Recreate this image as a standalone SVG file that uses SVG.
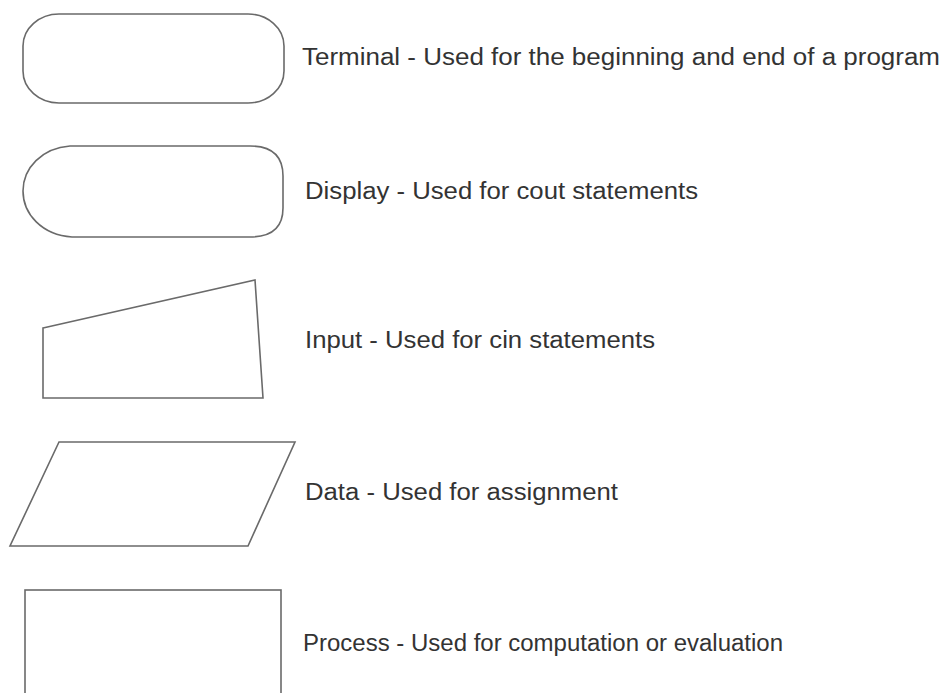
<svg xmlns="http://www.w3.org/2000/svg" width="944" height="693" viewBox="0 0 944 693">
<style>
.shape{fill:#fff;stroke:#6a6a6a;stroke-width:1.6}
.lbl{font-family:"Liberation Sans",Arial,sans-serif;font-size:23px;fill:#333}
</style>
<rect width="944" height="693" fill="#fff"/>
<g id="terminal">
<rect class="shape" x="23" y="14" width="261" height="89" rx="36" ry="32"/>
<text class="lbl" x="302" y="65" textLength="638" lengthAdjust="spacingAndGlyphs">Terminal - Used for the beginning and end of a program</text>
</g>
<g id="display">
<path class="shape" d="M70,146 L250,146 Q283,146 283,176 L283,208 Q283,237 250,237 L72,237 C42,235 23,214 23,191 C23,168 42,148 70,146 Z"/>
<text class="lbl" x="305" y="199" textLength="393" lengthAdjust="spacingAndGlyphs">Display - Used for cout statements</text>
</g>
<g id="input">
<path class="shape" d="M43,328 L255,280 L263,398 L43,398 Z"/>
<text class="lbl" x="305" y="348" textLength="350" lengthAdjust="spacingAndGlyphs">Input - Used for cin statements</text>
</g>
<g id="data">
<path class="shape" d="M59,442 L295,442 L248,546 L10,546 Z"/>
<text class="lbl" x="305" y="500" textLength="313" lengthAdjust="spacingAndGlyphs">Data - Used for assignment</text>
</g>
<g id="process">
<rect class="shape" x="25" y="590" width="256" height="120"/>
<text class="lbl" x="303" y="651" textLength="480" lengthAdjust="spacingAndGlyphs">Process - Used for computation or evaluation</text>
</g>
<g id="connectors"/>
</svg>
